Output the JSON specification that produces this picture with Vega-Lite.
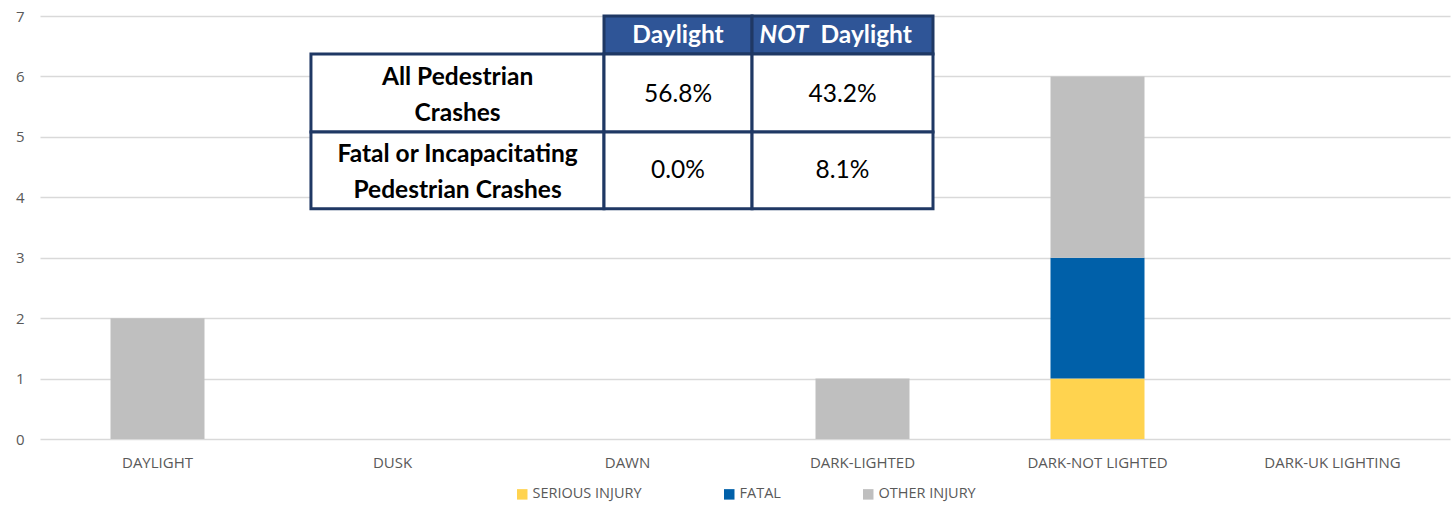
{
  "$schema": "https://vega.github.io/schema/vega-lite/v6.json",
  "width": 1410,
  "height": 423,
  "autosize": "none",
  "padding": {"left": 40, "top": 16, "right": 4, "bottom": 67},
  "background": "white",
  "config": {
    "view": {"stroke": null},
    "font": "Open Sans",
    "legend": {"layout": {"bottom": {"anchor": "middle"}}}
  },
  "datasets": {
    "crashes": [
      {"light": "DAYLIGHT", "severity": "OTHER INJURY", "count": 2},
      {"light": "DARK-LIGHTED", "severity": "OTHER INJURY", "count": 1},
      {"light": "DARK-NOT LIGHTED", "severity": "SERIOUS INJURY", "count": 1},
      {"light": "DARK-NOT LIGHTED", "severity": "FATAL", "count": 2},
      {"light": "DARK-NOT LIGHTED", "severity": "OTHER INJURY", "count": 3}
    ],
    "cells": [
      {"kind": "header", "x0": 2.4, "x1": 3.03, "y0": 6.37, "y1": 7.0},
      {"kind": "header", "x0": 3.03, "x1": 3.8, "y0": 6.37, "y1": 7.0},
      {"kind": "body", "x0": 1.153, "x1": 2.4, "y0": 5.08, "y1": 6.37},
      {"kind": "body", "x0": 2.4, "x1": 3.03, "y0": 5.08, "y1": 6.37},
      {"kind": "body", "x0": 3.03, "x1": 3.8, "y0": 5.08, "y1": 6.37},
      {"kind": "body", "x0": 1.153, "x1": 2.4, "y0": 3.81, "y1": 5.08},
      {"kind": "body", "x0": 2.4, "x1": 3.03, "y0": 3.81, "y1": 5.08},
      {"kind": "body", "x0": 3.03, "x1": 3.8, "y0": 3.81, "y1": 5.08}
    ],
    "texts": [
      {"part": "header", "text": "Daylight", "cx": 2.715, "cy": 6.67},
      {"part": "headerNot", "text": "NOT", "cx": 3.415, "cy": 6.67},
      {"part": "headerNotRest", "text": "Daylight", "cx": 3.415, "cy": 6.67},
      {"part": "rowlabel", "text": "All Pedestrian\nCrashes", "cx": 1.777, "cy": 5.725},
      {"part": "rowlabel", "text": "Fatal or Incapacitating\nPedestrian Crashes", "cx": 1.777, "cy": 4.445},
      {"part": "value", "text": "56.8%", "cx": 2.715, "cy": 5.7},
      {"part": "value", "text": "43.2%", "cx": 3.415, "cy": 5.7},
      {"part": "value", "text": "0.0%", "cx": 2.715, "cy": 4.43},
      {"part": "value", "text": "8.1%", "cx": 3.415, "cy": 4.43}
    ]
  },
  "layer": [
    {
      "data": {"name": "crashes"},
      "transform": [
        {"calculate": "indexof(['SERIOUS INJURY', 'FATAL', 'OTHER INJURY'], datum.severity)", "as": "stackOrder"}
      ],
      "mark": {"type": "bar"},
      "encoding": {
        "x": {
          "field": "light",
          "type": "nominal",
          "title": null,
          "scale": {
            "domain": ["DAYLIGHT", "DUSK", "DAWN", "DARK-LIGHTED", "DARK-NOT LIGHTED", "DARK-UK LIGHTING"],
            "paddingInner": 0.6,
            "paddingOuter": 0.3
          },
          "axis": {
            "labelAngle": 0,
            "ticks": false,
            "domain": false,
            "grid": false,
            "labelPadding": 16,
            "labelFontSize": 15,
            "labelColor": "#595959",
            "labelFont": "Open Sans"
          }
        },
        "y": {
          "field": "count",
          "type": "quantitative",
          "title": null,
          "stack": "zero",
          "scale": {"domain": [0, 7], "nice": false},
          "axis": {
            "values": [0, 1, 2, 3, 4, 5, 6, 7],
            "ticks": false,
            "domain": false,
            "grid": true,
            "gridColor": "#D9D9D9",
            "gridWidth": 1.5,
            "labelPadding": 16,
            "labelFontSize": 15,
            "labelColor": "#595959",
            "labelFont": "Open Sans"
          }
        },
        "order": {"field": "stackOrder", "type": "quantitative", "sort": "ascending"},
        "color": {
          "field": "severity",
          "type": "nominal",
          "sort": ["SERIOUS INJURY", "FATAL", "OTHER INJURY"],
          "scale": {
            "domain": ["SERIOUS INJURY", "FATAL", "OTHER INJURY"],
            "range": ["#FFD34F", "#0060A9", "#BFBFBF"]
          },
          "legend": {
            "orient": "bottom",
            "direction": "horizontal",
            "title": null,
            "symbolType": "square",
            "symbolSize": 110,
            "symbolStrokeWidth": 0,
            "labelFontSize": 14.5,
            "labelColor": "#595959",
            "labelFont": "Open Sans",
            "labelOffset": 3,
            "columnPadding": 80,
            "offset": 17
          }
        }
      }
    },
    {
      "data": {"name": "cells"},
      "mark": {"type": "rect", "stroke": "#1F3864", "strokeWidth": 3},
      "encoding": {
        "x": {"field": "x0", "type": "quantitative", "scale": {"domain": [0, 6], "nice": false, "zero": false}, "axis": null},
        "x2": {"field": "x1"},
        "y": {"field": "y0", "type": "quantitative", "scale": {"domain": [0, 7], "nice": false}, "axis": null},
        "y2": {"field": "y1"},
        "fill": {
          "field": "kind",
          "type": "nominal",
          "scale": {"domain": ["header", "body"], "range": ["#2F5597", "#FFFFFF"]},
          "legend": null
        }
      }
    },
    {
      "data": {"name": "texts"},
      "transform": [{"filter": "datum.part === 'header'"}],
      "mark": {"type": "text", "font": "Lato", "fontWeight": "bold", "fontSize": 24.5, "color": "#FFFFFF", "align": "center", "baseline": "middle"},
      "encoding": {
        "x": {"field": "cx", "type": "quantitative", "scale": {"domain": [0, 6], "nice": false, "zero": false}, "axis": null},
        "y": {"field": "cy", "type": "quantitative", "scale": {"domain": [0, 7], "nice": false}, "axis": null},
        "text": {"field": "text"}
      }
    },
    {
      "data": {"name": "texts"},
      "transform": [{"filter": "datum.part === 'headerNot'"}],
      "mark": {"type": "text", "font": "Lato", "fontWeight": "bold", "fontStyle": "italic", "fontSize": 24.5, "color": "#FFFFFF", "align": "right", "baseline": "middle", "dx": -34},
      "encoding": {
        "x": {"field": "cx", "type": "quantitative", "scale": {"domain": [0, 6], "nice": false, "zero": false}, "axis": null},
        "y": {"field": "cy", "type": "quantitative", "scale": {"domain": [0, 7], "nice": false}, "axis": null},
        "text": {"field": "text"}
      }
    },
    {
      "data": {"name": "texts"},
      "transform": [{"filter": "datum.part === 'headerNotRest'"}],
      "mark": {"type": "text", "font": "Lato", "fontWeight": "bold", "fontSize": 24.5, "color": "#FFFFFF", "align": "left", "baseline": "middle", "dx": -22},
      "encoding": {
        "x": {"field": "cx", "type": "quantitative", "scale": {"domain": [0, 6], "nice": false, "zero": false}, "axis": null},
        "y": {"field": "cy", "type": "quantitative", "scale": {"domain": [0, 7], "nice": false}, "axis": null},
        "text": {"field": "text"}
      }
    },
    {
      "data": {"name": "texts"},
      "transform": [{"filter": "datum.part === 'rowlabel'"}],
      "mark": {"type": "text", "font": "Lato", "fontWeight": "bold", "fontSize": 24.5, "color": "#000000", "align": "center", "baseline": "middle", "lineBreak": "\n", "lineHeight": 36, "dy": -15},
      "encoding": {
        "x": {"field": "cx", "type": "quantitative", "scale": {"domain": [0, 6], "nice": false, "zero": false}, "axis": null},
        "y": {"field": "cy", "type": "quantitative", "scale": {"domain": [0, 7], "nice": false}, "axis": null},
        "text": {"field": "text"}
      }
    },
    {
      "data": {"name": "texts"},
      "transform": [{"filter": "datum.part === 'value'"}],
      "mark": {"type": "text", "font": "Lato", "fontSize": 24.5, "color": "#000000", "align": "center", "baseline": "middle"},
      "encoding": {
        "x": {"field": "cx", "type": "quantitative", "scale": {"domain": [0, 6], "nice": false, "zero": false}, "axis": null},
        "y": {"field": "cy", "type": "quantitative", "scale": {"domain": [0, 7], "nice": false}, "axis": null},
        "text": {"field": "text"}
      }
    }
  ],
  "resolve": {"scale": {"x": "independent", "y": "independent", "fill": "independent"}}
}
